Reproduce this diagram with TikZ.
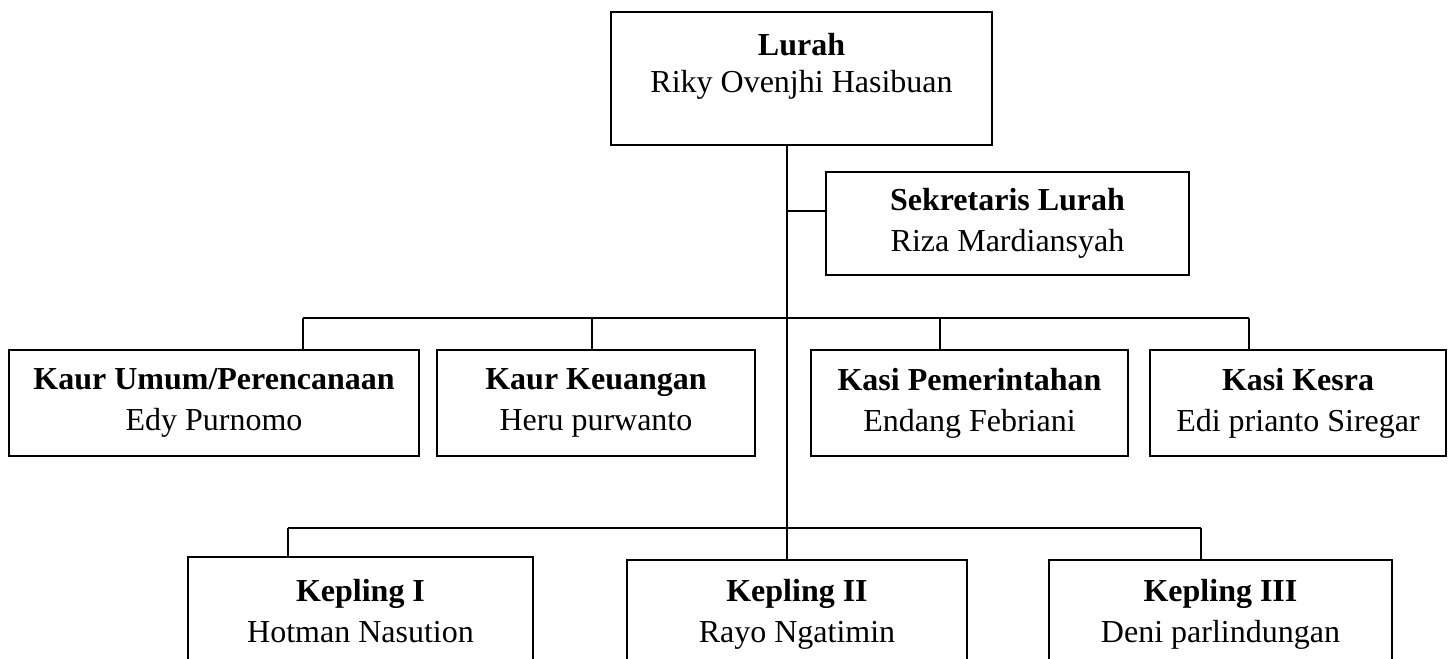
\documentclass[tikz,border=0pt]{standalone}
\usepackage{fontspec}
\setmainfont{Liberation Serif}
\begin{document}
\begin{tikzpicture}[x=0.5bp,y=-0.5bp,
  box/.style={draw, line width=1bp, inner sep=0pt, outer sep=0pt, align=center,
    font=\fontsize{16bp}{20.5bp}\selectfont},
  txt/.style={inner sep=0pt, align=center, font=\fontsize{16bp}{18.5bp}\selectfont},
  conn/.style={line width=1bp}]
\useasboundingbox (0,0) rectangle (1453,659);
\clip (0,0) rectangle (1453,659);
% boxes
\node[box, minimum width=190.5bp, minimum height=66.5bp] (lurah) at (801.5,78.5) {};
\node[txt] (lurahtxt) at (801.5,66) {\textbf{Lurah}\\Riky Ovenjhi Hasibuan};
\node[box, minimum width=181.5bp, minimum height=51.5bp] (sek) at (1007.5,223.5) {\textbf{Sekretaris Lurah}\\Riza Mardiansyah};
\node[box, minimum width=205bp, minimum height=53bp] (kaur1) at (214,403) {\textbf{Kaur Umum/Perencanaan}\\Edy Purnomo};
\node[box, minimum width=159bp, minimum height=53bp] (kaur2) at (596,403) {\textbf{Kaur Keuangan}\\Heru purwanto};
\node[box, minimum width=158.5bp, minimum height=53bp] (kasi1) at (969.5,403) {\textbf{Kasi Pemerintahan}\\Endang Febriani};
\node[box, minimum width=148bp, minimum height=53bp] (kasi2) at (1298,403) {\textbf{Kasi Kesra}\\Edi prianto Siregar};
\node[box, minimum width=172.5bp, minimum height=54bp] (kep1) at (360.5,611) {\textbf{Kepling I}\\Hotman Nasution};
\node[box, minimum width=170bp, minimum height=54bp] (kep2) at (797,614) {\textbf{Kepling II}\\Rayo Ngatimin};
\node[box, minimum width=171.5bp, minimum height=54bp] (kep3) at (1220.5,614) {\textbf{Kepling III}\\Deni parlindungan};
% connectors
\coordinate (trunk) at (787,0);
\coordinate (sekj) at (787,211);
\coordinate (m1) at (303,318);
\coordinate (m2) at (592,318);
\coordinate (m3) at (940,318);
\coordinate (m4) at (1249,318);
\coordinate (k1) at (288,528);
\coordinate (k3) at (1201,528);
\draw[conn] (trunk |- lurah.south) -- (trunk |- kep2.north);
\draw[conn] (sekj) -- (sekj -| sek.west);
\draw[conn] (m1) -- (m4);
\draw[conn] (m1) -- (m1 |- kaur1.north);
\draw[conn] (m2) -- (m2 |- kaur2.north);
\draw[conn] (m3) -- (m3 |- kasi1.north);
\draw[conn] (m4) -- (m4 |- kasi2.north);
\draw[conn] (k1) -- (k3);
\draw[conn] (k1) -- (k1 |- kep1.north);
\draw[conn] (k3) -- (k3 |- kep3.north);
\end{tikzpicture}
\end{document}
